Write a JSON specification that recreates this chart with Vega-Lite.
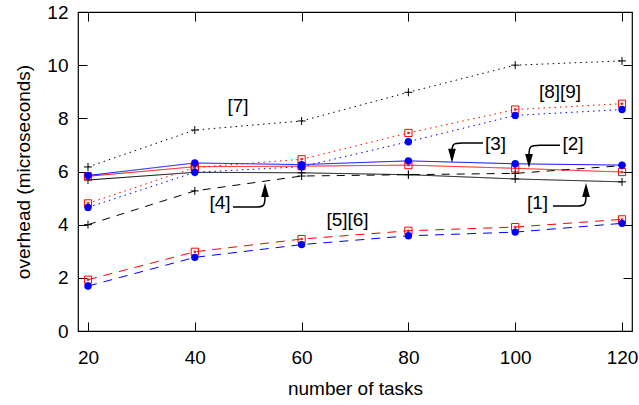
{
  "$schema": "https://vega.github.io/schema/vega-lite/v6.json",
  "width": 554,
  "height": 319,
  "autosize": {"type": "none"},
  "padding": {"left": 78, "top": 12, "right": 7, "bottom": 74},
  "background": "white",
  "config": {
    "view": {"stroke": "black", "strokeWidth": 1.2},
    "font": "Liberation Sans",
    "axis": {
      "grid": false,
      "domain": false,
      "tickColor": "black",
      "tickSize": -9,
      "tickWidth": 1,
      "labelColor": "black",
      "labelFontSize": 19,
      "labelFont": "Liberation Sans",
      "titleFont": "Liberation Sans",
      "titleFontSize": 19,
      "titleFontWeight": "normal",
      "titleColor": "black"
    }
  },
  "datasets": {
    "main": [
      {"series": "[1]", "tasks": 20, "overhead": 5.68},
      {"series": "[1]", "tasks": 40, "overhead": 5.97},
      {"series": "[1]", "tasks": 60, "overhead": 5.95},
      {"series": "[1]", "tasks": 80, "overhead": 5.88},
      {"series": "[1]", "tasks": 100, "overhead": 5.72},
      {"series": "[1]", "tasks": 120, "overhead": 5.61},
      {"series": "[2]", "tasks": 20, "overhead": 5.82},
      {"series": "[2]", "tasks": 40, "overhead": 6.18},
      {"series": "[2]", "tasks": 60, "overhead": 6.2},
      {"series": "[2]", "tasks": 80, "overhead": 6.24},
      {"series": "[2]", "tasks": 100, "overhead": 6.12},
      {"series": "[2]", "tasks": 120, "overhead": 5.98},
      {"series": "[3]", "tasks": 20, "overhead": 5.85},
      {"series": "[3]", "tasks": 40, "overhead": 6.32},
      {"series": "[3]", "tasks": 60, "overhead": 6.26},
      {"series": "[3]", "tasks": 80, "overhead": 6.4},
      {"series": "[3]", "tasks": 100, "overhead": 6.29},
      {"series": "[3]", "tasks": 120, "overhead": 6.24},
      {"series": "[4]", "tasks": 20, "overhead": 4.0},
      {"series": "[4]", "tasks": 40, "overhead": 5.27},
      {"series": "[4]", "tasks": 60, "overhead": 5.83},
      {"series": "[4]", "tasks": 80, "overhead": 5.88},
      {"series": "[4]", "tasks": 100, "overhead": 5.93},
      {"series": "[4]", "tasks": 120, "overhead": 6.22},
      {"series": "[5]", "tasks": 20, "overhead": 1.93},
      {"series": "[5]", "tasks": 40, "overhead": 2.98},
      {"series": "[5]", "tasks": 60, "overhead": 3.46},
      {"series": "[5]", "tasks": 80, "overhead": 3.77},
      {"series": "[5]", "tasks": 100, "overhead": 3.91},
      {"series": "[5]", "tasks": 120, "overhead": 4.2},
      {"series": "[6]", "tasks": 20, "overhead": 1.69},
      {"series": "[6]", "tasks": 40, "overhead": 2.77},
      {"series": "[6]", "tasks": 60, "overhead": 3.25},
      {"series": "[6]", "tasks": 80, "overhead": 3.58},
      {"series": "[6]", "tasks": 100, "overhead": 3.72},
      {"series": "[6]", "tasks": 120, "overhead": 4.05},
      {"series": "[7]", "tasks": 20, "overhead": 6.17},
      {"series": "[7]", "tasks": 40, "overhead": 7.56},
      {"series": "[7]", "tasks": 60, "overhead": 7.9},
      {"series": "[7]", "tasks": 80, "overhead": 8.98},
      {"series": "[7]", "tasks": 100, "overhead": 10.0},
      {"series": "[7]", "tasks": 120, "overhead": 10.16},
      {"series": "[8]", "tasks": 20, "overhead": 4.8},
      {"series": "[8]", "tasks": 40, "overhead": 6.15},
      {"series": "[8]", "tasks": 60, "overhead": 6.46},
      {"series": "[8]", "tasks": 80, "overhead": 7.45},
      {"series": "[8]", "tasks": 100, "overhead": 8.33},
      {"series": "[8]", "tasks": 120, "overhead": 8.55},
      {"series": "[9]", "tasks": 20, "overhead": 4.65},
      {"series": "[9]", "tasks": 40, "overhead": 5.97},
      {"series": "[9]", "tasks": 60, "overhead": 6.18},
      {"series": "[9]", "tasks": 80, "overhead": 7.12},
      {"series": "[9]", "tasks": 100, "overhead": 8.11},
      {"series": "[9]", "tasks": 120, "overhead": 8.33}
    ],
    "labels": [
      {"text": "[7]", "tasks": 48.09, "overhead": 8.46},
      {"text": "[8][9]", "tasks": 108.39, "overhead": 8.98},
      {"text": "[3]", "tasks": 96.31, "overhead": 7.05},
      {"text": "[2]", "tasks": 110.82, "overhead": 7.05},
      {"text": "[4]", "tasks": 44.72, "overhead": 4.81},
      {"text": "[1]", "tasks": 104.18, "overhead": 4.81},
      {"text": "[5][6]", "tasks": 68.6, "overhead": 4.17}
    ],
    "arrows": [
      {"arrow": "a3", "order": 1, "tasks": 93.97, "overhead": 7.068},
      {"arrow": "a3", "order": 2, "tasks": 89.66, "overhead": 7.068},
      {"arrow": "a3", "order": 3, "tasks": 88.16, "overhead": 7.068},
      {"arrow": "a3", "order": 4, "tasks": 88.16, "overhead": 6.654},
      {"arrow": "a2", "order": 1, "tasks": 108.39, "overhead": 6.992},
      {"arrow": "a2", "order": 2, "tasks": 104.27, "overhead": 6.992},
      {"arrow": "a2", "order": 3, "tasks": 102.58, "overhead": 6.992},
      {"arrow": "a2", "order": 4, "tasks": 102.58, "overhead": 6.541},
      {"arrow": "a1", "order": 1, "tasks": 107.08, "overhead": 4.699},
      {"arrow": "a1", "order": 2, "tasks": 111.76, "overhead": 4.699},
      {"arrow": "a1", "order": 3, "tasks": 113.26, "overhead": 4.699},
      {"arrow": "a1", "order": 4, "tasks": 113.26, "overhead": 5.188},
      {"arrow": "a4", "order": 1, "tasks": 47.15, "overhead": 4.662},
      {"arrow": "a4", "order": 2, "tasks": 51.65, "overhead": 4.662},
      {"arrow": "a4", "order": 3, "tasks": 53.15, "overhead": 4.662},
      {"arrow": "a4", "order": 4, "tasks": 53.15, "overhead": 5.15}
    ],
    "heads": [
      {"arrow": "a3", "dir": "down", "tasks": 88.16, "overhead": 6.597},
      {"arrow": "a2", "dir": "down", "tasks": 102.58, "overhead": 6.391},
      {"arrow": "a1", "dir": "up", "tasks": 113.26, "overhead": 5.301},
      {"arrow": "a4", "dir": "up", "tasks": 53.15, "overhead": 5.301}
    ]
  },
  "layer": [
    {
      "data": {"name": "main"},
      "mark": {"type": "line", "strokeWidth": 1},
      "encoding": {
        "x": {
          "field": "tasks", "type": "quantitative",
          "scale": {"domain": [18.13, 121.87], "nice": false, "zero": false},
          "axis": {"orient": "bottom", "values": [20, 40, 60, 80, 100, 120], "title": "number of tasks", "labelPadding": 26, "titlePadding": 12}
        },
        "y": {
          "field": "overhead", "type": "quantitative",
          "scale": {"domain": [0, 12], "nice": false},
          "axis": {"orient": "left", "values": [0, 2, 4, 6, 8, 10, 12], "title": "overhead (microseconds)", "labelPadding": 19, "titlePadding": 13}
        },
        "color": {
          "field": "series", "type": "nominal", "legend": null,
          "scale": {"domain": ["[1]", "[2]", "[3]", "[4]", "[5]", "[6]", "[7]", "[8]", "[9]"],
                    "range": ["#000000", "#ff0000", "#0000ff", "#000000", "#ff0000", "#0000ff", "#000000", "#ff0000", "#0000ff"]}
        },
        "strokeDash": {
          "field": "series", "type": "nominal", "legend": null,
          "scale": {"domain": ["[1]", "[2]", "[3]", "[4]", "[5]", "[6]", "[7]", "[8]", "[9]"],
                    "range": [[1, 0], [1, 0], [1, 0], [8, 7], [9, 7], [9, 7], [1.5, 4], [1.5, 4], [1.5, 4]]}
        },
        "order": {"field": "tasks", "type": "quantitative"}
      }
    },
    {
      "data": {"name": "main"},
      "transform": [{"filter": {"field": "series", "oneOf": ["[1]", "[2]", "[4]", "[5]", "[7]", "[8]"]}}],
      "mark": {"type": "point", "filled": false, "strokeWidth": 1, "size": 64, "opacity": 1},
      "encoding": {
        "x": {"field": "tasks", "type": "quantitative", "scale": {"domain": [18.13, 121.87], "nice": false, "zero": false}, "axis": null},
        "y": {"field": "overhead", "type": "quantitative", "scale": {"domain": [0, 12], "nice": false}, "axis": null},
        "color": {
          "field": "series", "type": "nominal", "legend": null,
          "scale": {"domain": ["[1]", "[2]", "[3]", "[4]", "[5]", "[6]", "[7]", "[8]", "[9]"],
                    "range": ["#000000", "#ff0000", "#0000ff", "#000000", "#ff0000", "#0000ff", "#000000", "#ff0000", "#0000ff"]}
        },
        "shape": {
          "field": "series", "type": "nominal", "legend": null,
          "scale": {"domain": ["[1]", "[2]", "[4]", "[5]", "[7]", "[8]"],
                    "range": ["M-1,0L1,0M0,-1L0,1", "M-0.9,-0.9L0.9,-0.9L0.9,0.9L-0.9,0.9Z M-0.18,-0.18L0.18,-0.18L0.18,0.18L-0.18,0.18Z", "M-1,0L1,0M0,-1L0,1", "M-0.9,-0.9L0.9,-0.9L0.9,0.9L-0.9,0.9Z M-0.18,-0.18L0.18,-0.18L0.18,0.18L-0.18,0.18Z", "M-1,0L1,0M0,-1L0,1", "M-0.9,-0.9L0.9,-0.9L0.9,0.9L-0.9,0.9Z M-0.18,-0.18L0.18,-0.18L0.18,0.18L-0.18,0.18Z"]}
        }
      }
    },
    {
      "data": {"name": "main"},
      "transform": [{"filter": {"field": "series", "oneOf": ["[3]", "[6]", "[9]"]}}],
      "mark": {"type": "point", "filled": true, "shape": "circle", "size": 55, "opacity": 1, "color": "#0000ff"},
      "encoding": {
        "x": {"field": "tasks", "type": "quantitative", "scale": {"domain": [18.13, 121.87], "nice": false, "zero": false}, "axis": null},
        "y": {"field": "overhead", "type": "quantitative", "scale": {"domain": [0, 12], "nice": false}, "axis": null}
      }
    },
    {
      "data": {"name": "labels"},
      "mark": {"type": "text", "fontSize": 19, "font": "Liberation Sans", "align": "center", "baseline": "middle", "color": "black"},
      "encoding": {
        "x": {"field": "tasks", "type": "quantitative", "scale": {"domain": [18.13, 121.87], "nice": false, "zero": false},
              "axis": {"orient": "top", "values": [20, 40, 60, 80, 100, 120], "labels": false, "title": null}},
        "y": {"field": "overhead", "type": "quantitative", "scale": {"domain": [0, 12], "nice": false},
              "axis": {"orient": "right", "values": [0, 2, 4, 6, 8, 10, 12], "labels": false, "title": null}},
        "text": {"field": "text"}
      }
    },
    {
      "data": {"name": "arrows"},
      "mark": {"type": "line", "interpolate": "basis", "strokeWidth": 1.5, "color": "black"},
      "encoding": {
        "x": {"field": "tasks", "type": "quantitative", "scale": {"domain": [18.13, 121.87], "nice": false, "zero": false}, "axis": null},
        "y": {"field": "overhead", "type": "quantitative", "scale": {"domain": [0, 12], "nice": false}, "axis": null},
        "detail": {"field": "arrow"},
        "order": {"field": "order", "type": "quantitative"}
      }
    },
    {
      "data": {"name": "heads"},
      "mark": {"type": "point", "filled": true, "size": 196, "opacity": 1, "color": "black", "strokeWidth": 0},
      "encoding": {
        "x": {"field": "tasks", "type": "quantitative", "scale": {"domain": [18.13, 121.87], "nice": false, "zero": false}, "axis": null},
        "y": {"field": "overhead", "type": "quantitative", "scale": {"domain": [0, 12], "nice": false}, "axis": null},
        "shape": {
          "field": "dir", "type": "nominal", "legend": null,
          "scale": {"domain": ["down", "up"], "range": ["M-0.55,-1L0.55,-1L0,1Z", "M-0.55,1L0.55,1L0,-1Z"]}
        }
      }
    }
  ],
  "resolve": {"axis": {"x": "independent", "y": "independent"}, "scale": {"shape": "independent"}}
}
